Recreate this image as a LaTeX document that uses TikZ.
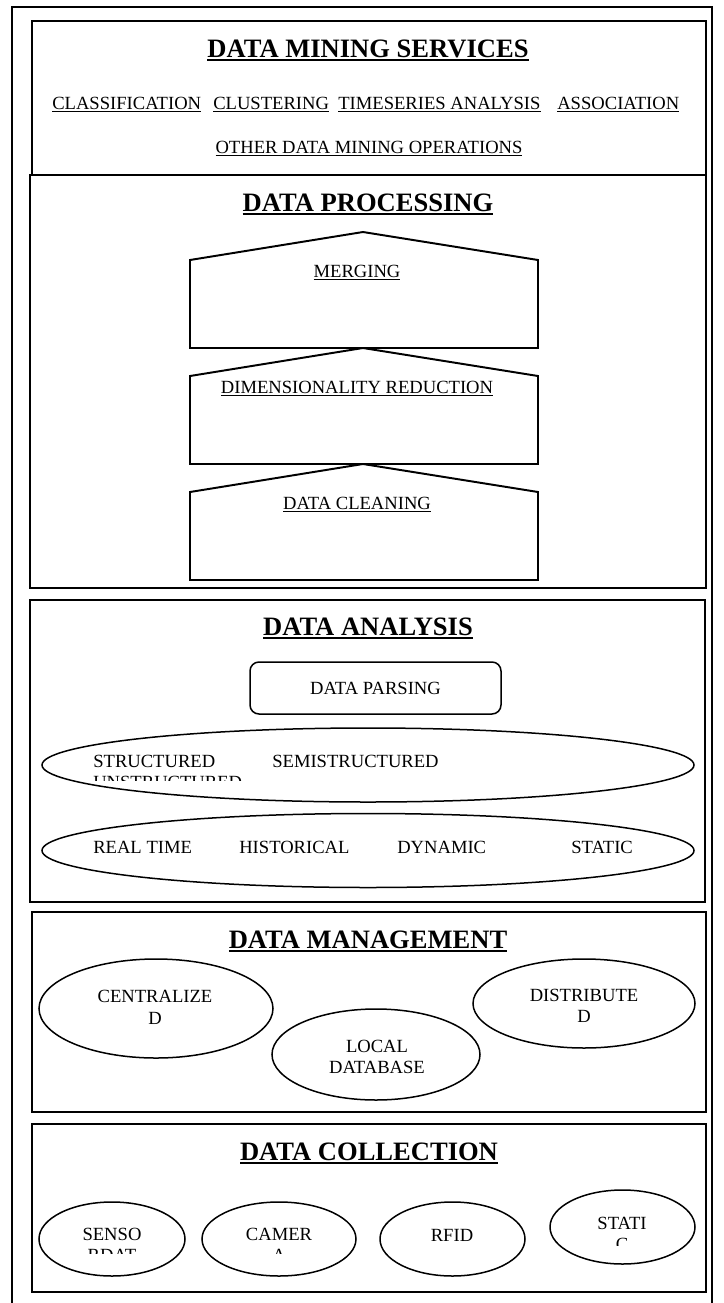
\documentclass[tikz,border=0pt]{standalone}
\usepackage{fontspec}
\setmainfont{Liberation Serif}
\usetikzlibrary{shapes.geometric}

\newcommand{\ulined}[2][0.7pt]{\vtop{\hbox{#2}\kern1.3pt\hrule height #1}}

\begin{document}
\begin{tikzpicture}
	[
		x = 0.6667pt, y = -0.6667pt,
		frame/.style = {draw, line width=1.3pt},
		oval/.style = {shape=ellipse, draw, line width=1pt, inner sep=0pt},
		title/.style = {anchor=base, inner sep=0pt, font=\fontsize{17.7}{20}\selectfont\bfseries},
		item/.style = {anchor=base, inner sep=0pt, font=\fontsize{12.4}{14.5}\selectfont},
		witem/.style = {item, anchor=base west}
	]
	
	\def\u{0.6667pt}
	\useasboundingbox (0,0) rectangle (724,1303);
	
	\newcommand{\stage}[3]{
		\draw [frame] (190, {#1 + 28}) -- (363, #1) -- (538, {#1 + 28}) -- (538, {#1 + 116}) -- (190, {#1 + 116}) -- cycle;
		\node [item] (#2) at (357, {#1 + 45}) {\ulined{#3}};
	}
	\newcommand{\blob}[5]{\node [oval, minimum width=#3*\u, minimum height=#4*\u] (#5) at (#1, #2) {}; }
	
	\draw [frame] (12, 7) rectangle (712, 1320);
	
	\draw [frame] (32, 21) rectangle (706, 175);
	\node [title] (mining) at (368, 57) {\ulined[1.3pt]{DATA MINING SERVICES}};
	\node [witem] (classif) at (52, 109) {\ulined{CLASSIFICATION}};
	\node [witem] (cluster) at (213, 109) {\ulined{CLUSTERING}};
	\node [witem] (timeser) at (338, 109) {\ulined{TIMESERIES ANALYSIS}};
	\node [witem] (assoc) at (557, 109) {\ulined{ASSOCIATION}};
	\node [item] (otherops) at (369, 153) {\ulined{OTHER DATA MINING OPERATIONS}};
	
	\draw [frame] (30, 175) rectangle (706, 588);
	\node [title] (processing) at (368, 211) {\ulined[1.3pt]{DATA PROCESSING}};
	\stage{232}{merging}{MERGING}
	\stage{348}{dimred}{DIMENSIONALITY REDUCTION}
	\stage{464}{cleaning}{DATA CLEANING}
	
	\draw [frame] (30, 600) rectangle (705, 902);
	\node [title] (analysis) at (368, 635) {\ulined[1.3pt]{DATA ANALYSIS}};
	\node [item, anchor=center, draw, line width=1pt, rounded corners=6pt, minimum width=251*\u, minimum height=52*\u] (parsing) at (375.5, 688) {DATA PARSING};
	\blob{368}{765}{652}{74}{kinds}
	\blob{368}{850.5}{652}{74}{times}
	\node [witem] (semistruct) at (272, 767) {SEMISTRUCTURED};
	\begin{scope}
		\clip (42, 740) rectangle (694, 780);
		\node [witem] (struct) at (93, 767) {STRUCTURED};
		\node [witem] (unstruct) at (93, 788) {UNSTRUCTURED};
	\end{scope}
	\node [witem] (realtime) at (93, 853) {REAL TIME};
	\node [witem] (historical) at (239, 853) {HISTORICAL};
	\node [witem] (dynamic) at (397, 853) {DYNAMIC};
	\node [witem] (static) at (571, 853) {STATIC};
	
	\draw [frame] (32, 912) rectangle (706, 1112);
	\node [title] (management) at (368, 948) {\ulined[1.3pt]{DATA MANAGEMENT}};
	\blob{156}{1008.5}{234}{99}{central}
	\blob{376}{1054.5}{208}{91}{localdb}
	\blob{584}{1003.5}{222}{89}{distrib}
	\node [item] (centralt) at (155, 1002) {CENTRALIZE};
	\node [item] (centralb) at (155, 1024) {D};
	\node [item] (localt) at (377, 1052) {LOCAL};
	\node [item] (localb) at (377, 1073) {DATABASE};
	\node [item] (distribt) at (584, 1001) {DISTRIBUTE};
	\node [item] (distribb) at (584, 1022) {D};
	
	\draw [frame] (32, 1124) rectangle (706, 1292);
	\node [title] (collection) at (369, 1160) {\ulined[1.3pt]{DATA COLLECTION}};
	\blob{112}{1239}{146}{74}{sensor}
	\blob{279}{1239}{154}{74}{camera}
	\blob{452.5}{1239}{145}{74}{rfid}
	\blob{622.5}{1227}{145}{74}{stat}
	\node [item] (rfidt) at (452, 1241) {RFID};
	\begin{scope}
		\clip (40, 1210) rectangle (360, 1253);
		\node [item] (sensort) at (112, 1240) {SENSO};
		\node [item] (sensorb) at (112, 1261) {RDAT};
		\node [item] (camerat) at (279, 1240) {CAMER};
		\node [item] (camerab) at (279, 1261) {A};
	\end{scope}
	\begin{scope}
		\clip (550, 1200) rectangle (695, 1245);
		\node [item] (statt) at (622, 1229) {STATI};
		\node [item] (statb) at (622, 1250) {C};
	\end{scope}
\end{tikzpicture}
\end{document}
